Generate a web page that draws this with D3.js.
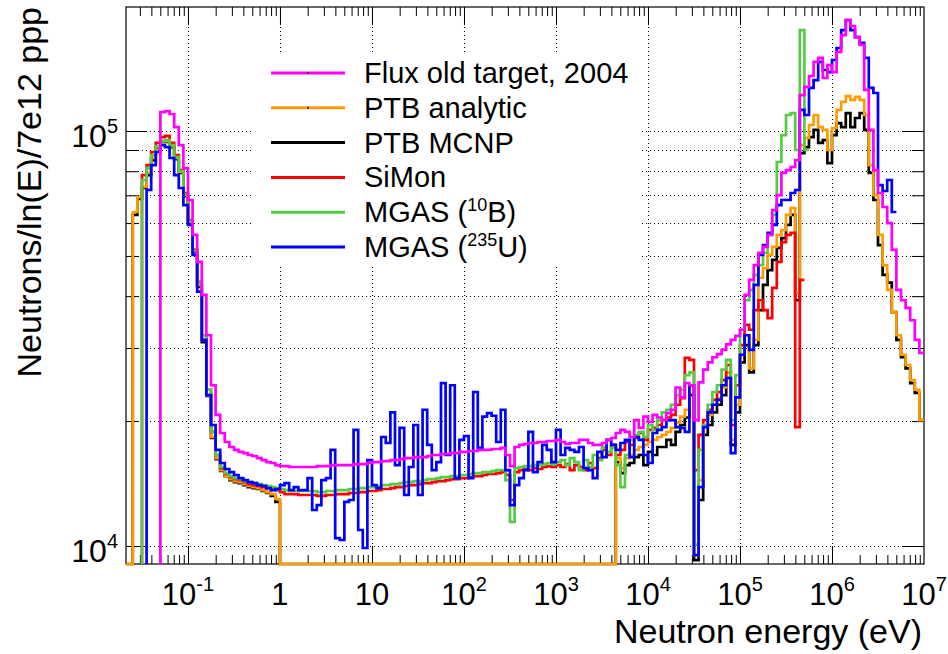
<!DOCTYPE html>
<html>
<head>
<meta charset="utf-8">
<script src="https://cdn.jsdelivr.net/npm/d3@7"></script>
<style>
  html, body { margin: 0; padding: 0; background: #fff; }
  svg { display: block; }
  text { font-family: "Liberation Sans", Arial, Helvetica, sans-serif; fill: #000; }
</style>
</head>
<body>
<svg id="chart" width="948" height="654"></svg>
<script>
// ---------------------------------------------------------------------------
// Binning: all spectra share log-spaced bins, 20 per decade, starting at 10^-1.7 eV
// ---------------------------------------------------------------------------
const LOG_E_START = -1.7;
const BIN_DECADES = 0.05;
const UNIT = 1000;                 // spectra below are listed in thousands

// Axis limits
const X_MIN = 0.0212, X_MAX = 1e7;
const Y_MIN = 9050, Y_MAX = 199000;

const xMajorTicks = [0.1, 1, 10, 1e2, 1e3, 1e4, 1e5, 1e6];
const xTickLabels = [["10", "-1"], ["1", ""], ["10", ""], ["10", "2"], ["10", "3"],
                     ["10", "4"], ["10", "5"], ["10", "6"], ["10", "7"]];
const xLabelTicks = [0.1, 1, 10, 1e2, 1e3, 1e4, 1e5, 1e6, 1e7];
const yMajorTicks = [1e4, 1e5];
const yTickLabels = [["10", "4"], ["10", "5"]];
const yMinorTicks = [2e4, 3e4, 4e4, 5e4, 6e4, 7e4, 8e4, 9e4];

// Flux old target, 2004 (first bin 8)
const FLUX2004_FIRST = 8;
const flux2004 = [
  111.1,111.7,109.9,102.2,92.5,81.4,68.2,56.2,48.4,40.3,
  32.2,24.4,20.7,18.72,17.81,17.32,17.04,16.85,16.75,16.57,
  16.48,16.29,16.11,15.93,15.85,15.67,15.58,15.58,15.50,15.50,
  15.50,15.50,15.50,15.50,15.58,15.58,15.58,15.67,15.67,15.67,
  15.67,15.67,15.76,15.76,15.76,15.85,15.93,15.93,16.02,16.02,
  16.11,16.11,16.20,16.29,16.29,16.38,16.38,16.38,16.48,16.57,
  16.57,16.66,16.66,16.75,16.75,16.85,16.85,16.94,16.94,17.04,
  17.04,17.04,17.13,17.13,17.23,16.57,15.58,17.32,17.52,17.61,
  17.71,17.71,17.81,17.81,17.91,17.91,18.01,17.81,17.61,17.71,
  17.71,18.01,18.01,17.71,17.52,17.52,17.71,18.01,18.21,18.72,
  19.04,18.83,18.31,20.1,19.25,20.5,19.90,20.7,20.4,20.1,
  20.9,21.3,24.1,22.8,24.7,24.4,20.1,24.8,26.6,27.7,
  28.5,29.0,29.7,30.6,31.4,32.1,33.2,40.3,43.8,47.5,
  50.9,52.6,56.2,64.5,70.1,79.3,80.5,81.9,85.1,122.1,
  127.7,135.7,146.7,150.0,134.2,144.2,138.7,155.1,170.3,185.1,
  179.1,168.4,161.2,125.6,100.6,80.5,70.9,65.6,60.0,51.7,
  41.4,39.1,37.5,35.0,31.4,29.2
];

// PTB analytic (first bin 0, zero between 1 eV and ~4.5 keV)
const PTB_ANALYTIC_FIRST = 0;
const ptbAnalytic = [
  0,0,63.8,69.3,73.3,79.3,86.1,91.5,94.6,94.6,
  92.0,86.1,79.7,70.1,60.4,51.7,42.6,31.4,23.1,18.31,
  16.29,15.24,14.74,14.50,14.34,14.26,14.10,13.95,13.87,13.79,
  13.64,13.49,13.34,12.98,0,0,0,0,0,0,
  0,0,0,0,0,0,0,0,0,0,
  0,0,0,0,0,0,0,0,0,0,
  0,0,0,0,0,0,0,0,0,0,
  0,0,0,0,0,0,0,0,0,0,
  0,0,0,0,0,0,0,0,0,0,
  0,0,0,0,0,0,0,0,0,0,
  0,0,0,0,0,0,0,16.29,15.41,16.29,
  16.57,17.04,17.32,17.52,17.81,18.01,18.31,18.52,18.83,19.25,
  19.79,20.5,21.3,24.3,9.51,14.42,19.57,20.7,21.9,22.7,
  24.1,26.2,18.01,21.9,28.9,32.2,26.8,31.4,44.3,46.7,
  50.3,52.6,56.2,57.7,62.8,65.2,40.7,92.5,96.2,103.4,
  109.3,102.2,100.6,90.0,101.7,112.4,117.5,121.4,118.8,120.8,
  118.8,109.3,82.8,70.1,56.2,47.5,41.4,36.6,32.2,28.9,
  27.3,25.1,23.8,20.1
];

// PTB MCNP (first bin 0)
const PTB_MCNP_FIRST = 0;
const ptbMcnp = [
  0,0,62.8,68.6,72.9,78.3,85.1,91.0,94.1,94.1,
  91.5,85.6,79.3,69.7,60.0,51.1,42.1,31.0,23.0,18.21,
  16.20,15.16,14.74,14.42,14.26,14.18,14.02,13.87,13.79,13.72,
  13.57,13.42,13.20,12.77,0,0,0,0,0,0,
  0,0,0,0,0,0,0,0,0,0,
  0,0,0,0,0,0,0,0,0,0,
  0,0,0,0,0,0,0,0,0,0,
  0,0,0,0,0,0,0,0,0,0,
  0,0,0,0,0,0,0,0,0,0,
  0,0,0,0,0,0,0,0,0,0,
  0,0,0,0,0,0,0,15.93,14.99,15.67,
  15.85,16.38,16.57,15.67,16.85,16.57,17.32,17.32,18.01,17.52,
  18.83,19.57,20.4,23.1,9.25,12.91,18.52,19.57,21.0,21.9,
  23.1,25.4,17.52,21.0,27.7,30.5,26.2,30.5,37.0,42.6,
  46.2,48.9,52.3,55.2,59.4,62.8,39.1,88.5,91.5,96.7,
  100.6,93.6,95.1,83.7,97.8,104.5,102.2,110.5,102.2,107.5,
  110.5,100.6,79.3,68.2,53.1,45.0,43.1,36.6,31.4,28.5,
  26.8,24.7,23.4,20.1
];

// SiMon (first bin 4)
const SIMON_FIRST = 4;
const siMon = [
  78.3,82.8,89.0,93.6,96.7,97.3,93.6,87.5,80.5,70.9,
  61.0,51.7,43.3,32.2,23.8,18.83,16.57,15.41,14.91,14.66,
  14.50,14.42,14.26,14.10,14.02,13.95,13.87,13.79,13.72,13.64,
  13.49,13.34,13.34,13.34,13.27,13.27,13.27,13.27,13.20,13.20,
  13.27,13.27,13.34,13.34,13.34,13.42,13.42,13.49,13.49,13.57,
  13.57,13.64,13.72,13.72,13.79,13.87,13.87,13.95,14.02,14.02,
  14.10,14.18,14.18,14.26,14.34,14.34,14.42,14.50,14.50,14.58,
  14.58,14.66,14.74,14.74,14.83,14.91,14.91,14.99,15.07,14.83,
  12.91,15.07,15.24,15.33,15.24,15.41,15.33,15.50,15.58,15.50,
  15.67,15.50,15.76,15.24,15.67,15.50,15.24,15.85,15.41,16.29,
  17.04,16.57,17.52,16.57,17.04,17.81,17.52,18.21,18.72,18.01,
  19.04,19.25,19.57,20.1,20.4,20.7,21.9,22.7,28.4,28.1,
  15.24,18.52,20.1,21.3,22.5,23.5,25.1,27.3,19.57,24.4,
  30.5,34.1,33.2,37.0,39.1,37.0,35.4,41.9,48.4,54.0,
  56.2,56.8,19.35,43.8
];

// MGAS with 10B converter (first bin 4)
const MGAS_B10_FIRST = 4;
const mgasB10 = [
  76.2,81.4,87.5,92.0,94.6,95.1,92.5,86.6,80.1,70.5,
  60.7,51.4,43.1,32.2,23.8,18.83,16.57,15.50,14.99,14.74,
  14.58,14.50,14.34,14.26,14.18,14.10,14.02,13.95,13.87,13.79,
  13.72,13.64,13.57,13.57,13.57,13.57,13.57,13.57,13.49,13.49,
  13.57,13.57,13.64,13.64,13.64,13.72,13.72,13.79,13.79,13.87,
  13.87,13.95,14.02,14.02,14.10,14.10,14.18,14.26,14.26,14.34,
  14.34,14.42,14.50,14.50,14.58,14.66,14.66,14.74,14.74,14.83,
  14.83,14.91,14.99,14.99,15.07,15.07,15.16,15.24,15.24,14.42,
  11.43,15.41,15.50,15.58,15.58,15.67,15.67,15.76,15.85,15.76,
  15.93,16.11,15.67,16.29,15.93,15.24,16.11,15.50,16.57,16.11,
  17.32,16.85,17.23,15.67,13.87,16.57,18.01,18.52,18.83,18.31,
  19.57,19.04,20.1,21.0,21.3,21.9,23.1,23.8,25.8,26.2,
  10.06,17.04,19.57,21.9,23.5,24.4,26.6,28.1,20.1,25.8,
  33.2,39.1,41.4,45.0,47.5,50.9,56.2,62.8,84.2,97.8,
  109.3,110.5,90.0,175.1,90.0
];

// MGAS with 235U converter (first bin 5)
const MGAS_U235_FIRST = 5;
const mgasU235 = [
  72.1,82.8,89.0,92.5,91.5,86.1,78.3,72.9,66.3,59.4,
  50.3,41.0,31.4,23.1,19.57,17.04,15.85,15.33,15.07,14.83,
  14.58,14.42,14.26,14.18,14.02,13.95,13.79,13.64,13.72,14.02,
  14.18,13.64,13.87,13.64,13.64,14.58,12.21,12.55,14.42,14.58,
  17.04,10.45,10.34,12.77,12.91,19.04,10.93,9.89,16.11,14.02,
  13.79,18.31,17.71,21.0,15.67,19.25,13.27,15.50,19.57,13.27,
  21.3,17.52,15.24,15.93,24.7,16.57,24.4,14.58,18.01,18.41,
  14.58,23.5,17.23,20.5,20.9,20.6,17.81,21.3,15.24,12.55,
  14.02,14.58,15.24,18.83,15.07,15.93,17.52,17.04,15.93,19.04,
  16.57,17.23,17.04,16.85,17.32,15.41,15.24,14.58,16.85,16.38,
  18.01,17.52,17.04,17.71,18.01,16.38,18.31,18.01,16.57,15.85,
  18.72,19.04,19.35,20.1,20.1,19.35,19.25,18.83,24.4,9.51,
  13.87,19.35,21.0,21.9,22.5,24.4,25.4,16.75,22.8,28.9,
  32.2,29.7,42.6,50.3,53.1,56.8,59.4,66.3,68.2,68.2,
  70.9,72.1,112.4,109.3,127.0,132.7,146.7,140.3,138.7,148.3,
  158.5,175.1,185.1,175.1,168.4,163.0,150.0,127.0,123.5,74.1,
  71.7,76.2,63.8
];

// Series: drawing order (back to front) and legend order
const seriesDraw = [
  { key: "mcnp",  color: "#000000", first: PTB_MCNP_FIRST,     values: ptbMcnp },
  { key: "ana",   color: "#ff9c00", first: PTB_ANALYTIC_FIRST, values: ptbAnalytic },
  { key: "simon", color: "#ff0000", first: SIMON_FIRST,        values: siMon },
  { key: "b10",   color: "#55cc44", first: MGAS_B10_FIRST,     values: mgasB10 },
  { key: "u235",  color: "#0000ff", first: MGAS_U235_FIRST,    values: mgasU235 },
  { key: "old",   color: "#ff00ff", first: FLUX2004_FIRST,     values: flux2004 }
];
const legendEntries = [
  { key: "old",   marker: true,  parts: [["Flux old target, 2004", false]] },
  { key: "ana",   marker: true,  parts: [["PTB analytic", false]] },
  { key: "mcnp",  marker: false, parts: [["PTB MCNP", false]] },
  { key: "simon", marker: false, parts: [["SiMon", false]] },
  { key: "b10",   marker: false, parts: [["MGAS (", false], ["10", true], ["B)", false]] },
  { key: "u235",  marker: false, parts: [["MGAS (", false], ["235", true], ["U)", false]] }
];

// ---------------------------------------------------------------------------
const W = 948, H = 654;
const F = { l: 126, r: 924, t: 7, b: 564 };

const svg = d3.select("#chart");
svg.append("rect").attr("width", W).attr("height", H).attr("fill", "#fff");

const x = d3.scaleLog().domain([X_MIN, X_MAX]).range([F.l, F.r]);
const y = d3.scaleLog().domain([Y_MIN, Y_MAX]).range([F.b, F.t]).clamp(true);

const binEdge = i => Math.pow(10, LOG_E_START + i * BIN_DECADES);

// dotted grid
const grid = svg.append("g")
  .attr("stroke", "#000").attr("stroke-width", 1)
  .attr("stroke-dasharray", "1 3").attr("fill", "none");
xMajorTicks.forEach(v => {
  const px = Math.round(x(v)) + 0.5;
  grid.append("line").attr("x1", px).attr("x2", px).attr("y1", F.t).attr("y2", F.b);
});
yMajorTicks.concat(yMinorTicks).forEach(v => {
  const py = Math.round(y(v)) + 0.5;
  grid.append("line").attr("x1", F.l).attr("x2", F.r).attr("y1", py).attr("y2", py);
});

// legend background hides the grid behind it
const LEG = { x: 253, y: 55, w: 388, h: 212 };
svg.append("rect").attr("x", LEG.x).attr("y", LEG.y)
  .attr("width", LEG.w).attr("height", LEG.h).attr("fill", "#fff");

// ticks on all four sides, pointing inwards
const xMinorTicks = [];
for (let d = -2; d <= 6; d++) {
  for (let k = 2; k <= 9; k++) {
    const v = k * Math.pow(10, d);
    if (v > X_MIN && v < X_MAX) xMinorTicks.push(v);
  }
}
function tickGroup(axisFn, scale, values, size, tx, ty) {
  const g = svg.append("g").attr("transform", `translate(${tx},${ty})`)
    .call(axisFn(scale).tickValues(values).tickSize(size).tickFormat(""));
  g.select(".domain").remove();
  g.selectAll(".tick line").attr("stroke", "#000").attr("stroke-width", 1);
  return g;
}
tickGroup(d3.axisBottom, x, xMajorTicks, -18, 0, F.b);
tickGroup(d3.axisBottom, x, xMinorTicks, -9, 0, F.b);
tickGroup(d3.axisTop, x, xMajorTicks, -18, 0, F.t);
tickGroup(d3.axisTop, x, xMinorTicks, -9, 0, F.t);
tickGroup(d3.axisLeft, y, yMajorTicks, -21, F.l, 0);
tickGroup(d3.axisLeft, y, yMinorTicks, -12, F.l, 0);
tickGroup(d3.axisRight, y, yMajorTicks, -21, F.r, 0);
tickGroup(d3.axisRight, y, yMinorTicks, -12, F.r, 0);

// frame
svg.append("rect").attr("x", F.l).attr("y", F.t)
  .attr("width", F.r - F.l).attr("height", F.b - F.t)
  .attr("fill", "none").attr("stroke", "#000").attr("stroke-width", 1.2);

// histogram outlines
svg.append("clipPath").attr("id", "plotClip")
  .append("rect").attr("x", F.l).attr("y", F.t - 2)
  .attr("width", F.r - F.l).attr("height", F.b - F.t + 4);

const step = d3.line()
  .x(d => x(d.e))
  .y(d => (d.v > 0 ? y(d.v) : F.b))
  .curve(d3.curveStepAfter);

const histG = svg.append("g").attr("clip-path", "url(#plotClip)");
seriesDraw.forEach(s => {
  const pts = [{ e: binEdge(s.first), v: 0 }];
  s.values.forEach((v, k) => pts.push({ e: binEdge(s.first + k), v: v * UNIT }));
  pts.push({ e: binEdge(s.first + s.values.length), v: s.values[s.values.length - 1] * UNIT });
  histG.append("path").attr("d", step(pts))
    .attr("fill", "none").attr("stroke", s.color)
    .attr("stroke-width", 2.7).attr("stroke-linejoin", "miter");
});

// axis tick labels with superscript exponents
function powerLabel(g, base, exp, px, py, anchor, size, supSize, supRise) {
  const t = g.append("text").attr("x", px).attr("y", py)
    .attr("text-anchor", anchor).attr("font-size", size);
  t.append("tspan").text(base);
  if (exp) t.append("tspan").attr("dy", -supRise).attr("font-size", supSize).text(exp);
  return t;
}
const labels = svg.append("g");
xLabelTicks.forEach((v, i) => {
  const [b, e] = xTickLabels[i];
  powerLabel(labels, b, e, x(v), 605, "middle", 31, 20, 14);
});
yMajorTicks.forEach((v, i) => {
  const [b, e] = yTickLabels[i];
  powerLabel(labels, b, e, 118, y(v) + 16, "end", 32, 20, 14);
});

// axis titles
svg.append("text").attr("x", 922).attr("y", 643)
  .attr("text-anchor", "end").attr("font-size", 34)
  .text("Neutron energy (eV)");
svg.append("text")
  .attr("transform", `translate(41,${F.t}) rotate(-90)`)
  .attr("text-anchor", "end").attr("font-size", 34)
  .text("Neutrons/ln(E)/7e12 ppp");

// legend
const colorOf = Object.fromEntries(seriesDraw.map(s => [s.key, s.color]));
legendEntries.forEach((entry, i) => {
  const cy = 73 + i * 34.8;
  svg.append("line").attr("x1", 271).attr("x2", 345).attr("y1", cy).attr("y2", cy)
    .attr("stroke", colorOf[entry.key]).attr("stroke-width", 3);
  if (entry.marker) {
    svg.append("rect").attr("x", 307).attr("y", cy - 1).attr("width", 2).attr("height", 2)
      .attr("fill", "#333");
  }
  const t = svg.append("text").attr("x", 364).attr("y", cy + 10).attr("font-size", 29);
  let raised = false;
  entry.parts.forEach(([txt, sup]) => {
    const ts = t.append("tspan").text(txt);
    if (sup && !raised) { ts.attr("dy", -11).attr("font-size", 18); raised = true; }
    else if (!sup && raised) { ts.attr("dy", 11); raised = false; }
  });
});
</script>
</body>
</html>
